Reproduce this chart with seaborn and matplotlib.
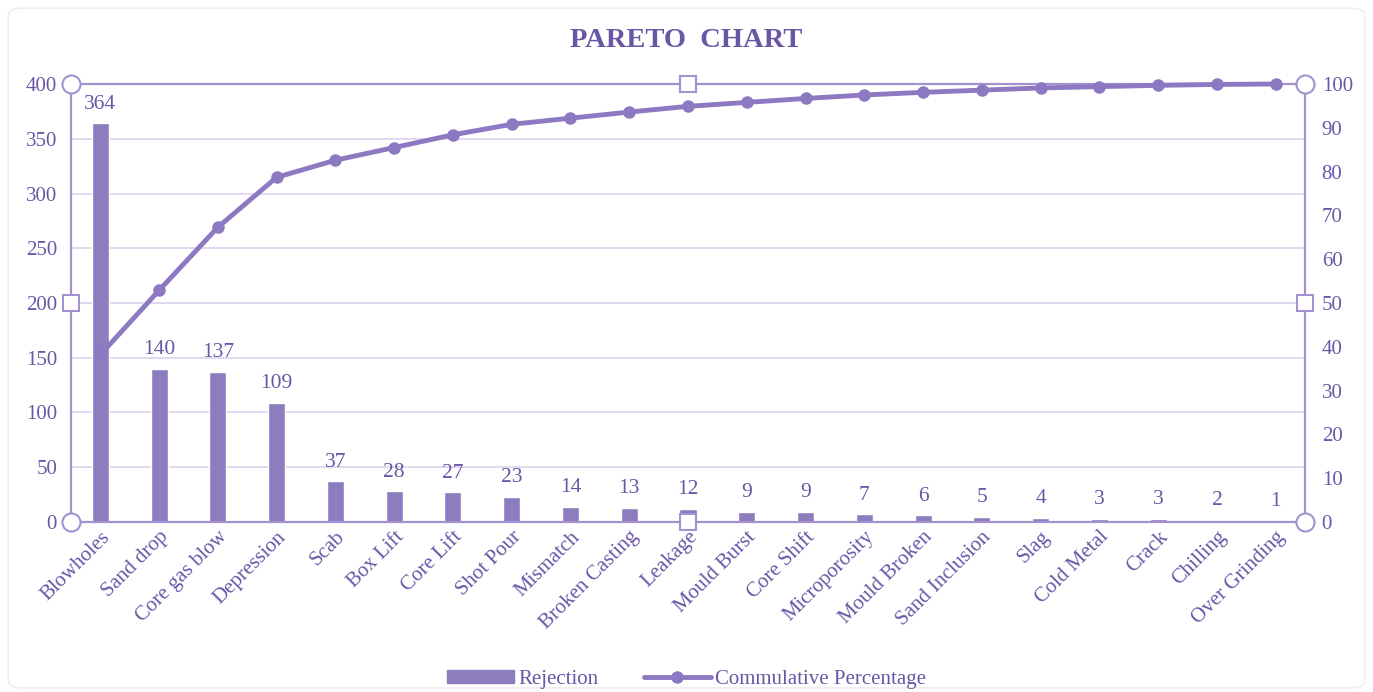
import matplotlib
matplotlib.use("Agg")
import matplotlib.pyplot as plt
import seaborn as sns
import pandas as pd
from matplotlib.patches import Patch, FancyBboxPatch
from matplotlib.lines import Line2D

categories = ["Blowholes", "Sand drop", "Core gas blow", "Depression", "Scab", "Box Lift",
              "Core Lift", "Shot Pour", "Mismatch", "Broken Casting", "Leakage", "Mould Burst",
              "Core Shift", "Microporosity", "Mould Broken", "Sand Inclusion", "Slag",
              "Cold Metal", "Crack", "Chilling", "Over Grinding"]
rejection = [364, 140, 137, 109, 37, 28, 27, 23, 14, 13, 12, 9, 9, 7, 6, 5, 4, 3, 3, 2, 1]
cumulative_pct = [38.2, 52.9, 67.3, 78.7, 82.6, 85.5, 88.4, 90.8, 92.2, 93.6, 94.9, 95.8,
                  96.7, 97.5, 98.1, 98.6, 99.1, 99.4, 99.7, 99.9, 100.0]
left_ticks = [0, 50, 100, 150, 200, 250, 300, 350, 400]
right_ticks = [0, 10, 20, 30, 40, 50, 60, 70, 80, 90, 100]

BAR = "#8E7DBE"
LINE = "#8C79C2"
TXT = "#6A56A6"
GRID = "#DAD2EE"
FRAME = "#A392CF"

sns.set_theme(style="white")
plt.rcParams["font.family"] = ["Liberation Serif", "DejaVu Serif"]

df = pd.DataFrame({"cat": categories, "rej": rejection, "cum": cumulative_pct})

fig = plt.figure(figsize=(13.73, 6.92), dpi=100)
fig.patches.append(FancyBboxPatch((0.006, 0.006), 0.988, 0.982, boxstyle="round,pad=0,rounding_size=0.01",
                                  transform=fig.transFigure, fill=False, edgecolor="#EEEEEE", lw=1.2))
ax = fig.add_axes([0.0517, 0.2457, 0.8988, 0.6329])
ax.set_facecolor("white")
sns.barplot(data=df, x="cat", y="rej", ax=ax, color=BAR, width=0.29, saturation=1, order=categories)
ax.set_ylim(0, 400)
ax.set_xlim(-0.5, len(categories) - 0.5)
ax.set_yticks(left_ticks)
ax.yaxis.grid(True, color=GRID, lw=1.2)
ax.set_axisbelow(True)
ax.set_xlabel("")
ax.set_ylabel("")
ax.tick_params(axis="y", labelsize=15, labelcolor=TXT, length=0, pad=10)
ax.tick_params(axis="x", labelsize=15, labelcolor=TXT, length=0, pad=4)
plt.setp(ax.get_xticklabels(), rotation=45, ha="right", rotation_mode="anchor")
for s in ax.spines.values():
    s.set_visible(True)
    s.set_color(FRAME)
    s.set_linewidth(1.6)

for i, v in enumerate(rejection):
    ax.annotate(str(v), (i, v), xytext=(0, 7), textcoords="offset points",
                ha="center", va="bottom", fontsize=15.5, color=TXT)

ax2 = ax.twinx()
ax2.plot(range(len(categories)), cumulative_pct, color=LINE, lw=3.5, marker="o", markersize=8,
         zorder=5, clip_on=False)
ax2.set_ylim(0, 100)
ax2.set_xlim(-0.5, len(categories) - 0.5)
ax2.set_yticks(right_ticks)
ax2.tick_params(axis="y", labelsize=15, labelcolor=TXT, length=0, pad=12)
ax2.grid(False)
for s in ax2.spines.values():
    s.set_visible(False)

# selection handles
for (hx, hy) in [(0, 0), (0, 1), (1, 0), (1, 1)]:
    ax2.plot([hx], [hy], marker="o", markersize=13, mfc="white", mec=FRAME, mew=1.5,
             transform=ax2.transAxes, clip_on=False, zorder=10)
for (hx, hy) in [(0.5, 0), (0.5, 1), (0, 0.5), (1, 0.5)]:
    ax2.plot([hx], [hy], marker="s", markersize=11, mfc="white", mec=FRAME, mew=1.5,
             transform=ax2.transAxes, clip_on=False, zorder=10)

fig.text(0.5, 0.942, "PARETO  CHART", ha="center", va="center", fontsize=20.5, fontweight="bold", color=TXT)

handles = [Patch(facecolor=BAR, edgecolor=BAR, label="Rejection"),
           Line2D([0], [0], color=LINE, lw=3.5, marker="o", markersize=8, label="Commulative Percentage")]
leg = fig.legend(handles=handles, loc="center", bbox_to_anchor=(0.5, 0.018), ncol=2, frameon=False,
                 fontsize=15, handlelength=3.2, handleheight=0.6, columnspacing=2.2, handletextpad=0.2)
for t in leg.get_texts():
    t.set_color(TXT)

fig.savefig("out.png", dpi=100, facecolor="white")
